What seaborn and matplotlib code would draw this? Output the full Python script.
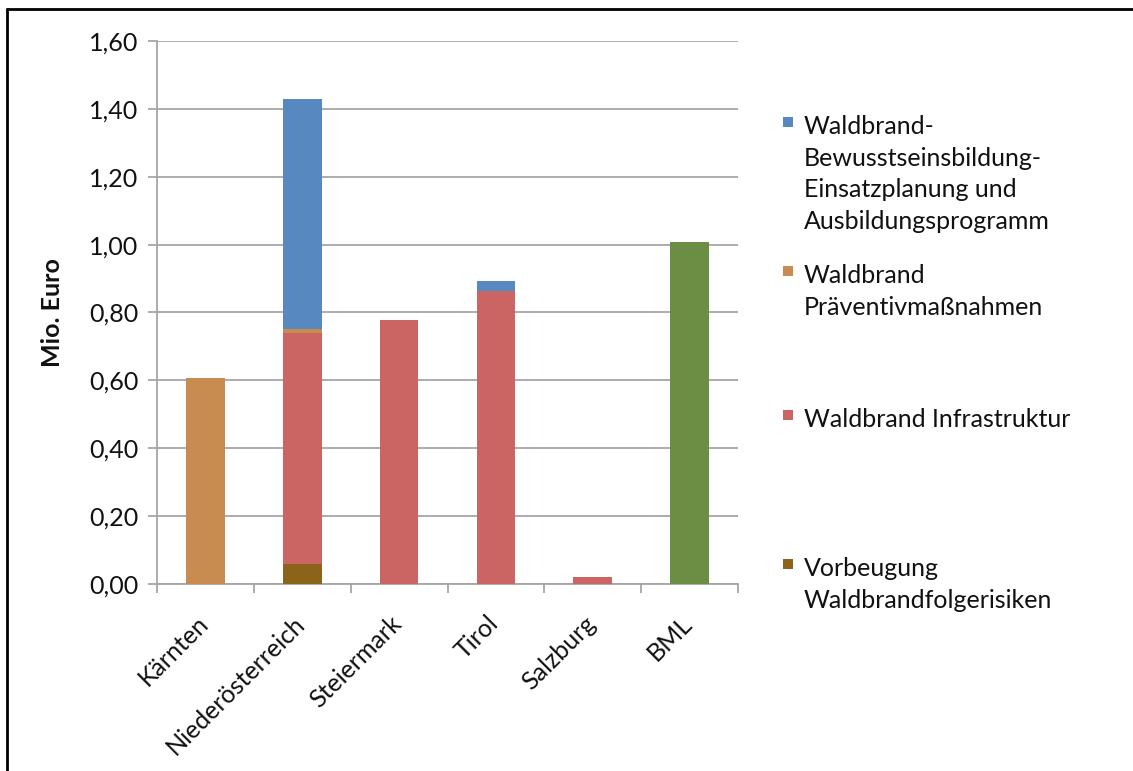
import numpy as np
import pandas as pd
import matplotlib
matplotlib.use("Agg")
import matplotlib.pyplot as plt
import matplotlib.patches as mpatches
from matplotlib.lines import Line2D
from matplotlib.transforms import ScaledTranslation
import seaborn as sns

categories = ["Kärnten", "Niederösterreich", "Steiermark", "Tirol", "Salzburg", "BML"]
vorbeugung = [0.0, 0.06, 0.0, 0.0, 0.0, 0.0]
infrastruktur = [0.0, 0.68, 0.777, 0.862, 0.02, 0.0]
praevention = [0.607, 0.012, 0.0, 0.0, 0.0, 0.0]
bewusstsein = [0.0, 0.677, 0.0, 0.031, 0.0, 0.0]
bml = [0.0, 0.0, 0.0, 0.0, 0.0, 1.008]

yticks = [0.0, 0.2, 0.4, 0.6, 0.8, 1.0, 1.2, 1.4, 1.6]
ytick_labels = ["0,00", "0,20", "0,40", "0,60", "0,80", "1,00", "1,20", "1,40", "1,60"]

series_names = [
    "Vorbeugung\nWaldbrandfolgerisiken",
    "Waldbrand Infrastruktur",
    "Waldbrand\nPräventivmaßnahmen",
    "Waldbrand-\nBewusstseinsbildung-\nEinsatzplanung und\nAusbildungsprogramm",
]
colors = {
    "brown": "#8B641A",
    "red": "#CA6563",
    "orange": "#C88C51",
    "blue": "#5888C0",
    "green": "#6C8E44",
}

sns.set_theme(style="white")
plt.rcParams["font.family"] = ["Lato", "DejaVu Sans"]

FS = 18
W, H = 1133, 771
fig = plt.figure(figsize=(W / 100, H / 100), dpi=100)
ax = fig.add_axes([157 / W, 1 - 584 / H, (738 - 157) / W, (584 - 41) / H])

df = pd.DataFrame({
    "Land": categories,
    "brown": vorbeugung,
    "red": infrastruktur,
    "orange": praevention,
    "blue": bewusstsein,
    "green": bml,
})
df["c_brown"] = df["brown"]
df["c_red"] = df["c_brown"] + df["red"]
df["c_orange"] = df["c_red"] + df["orange"]
df["c_blue"] = df["c_orange"] + df["blue"]
df["c_green"] = df["green"]

# draw cumulative totals from the top layer down so lower layers overlay
for key in ["blue", "orange", "red", "brown", "green"]:
    sns.barplot(data=df, x="Land", y="c_" + key, order=categories,
                color=colors[key], width=0.4, saturation=1,
                linewidth=0, ax=ax, zorder=3)

ax.set_xlim(-0.5, len(categories) - 0.5)
ax.set_ylim(0, 1.6)
ax.set_yticks(yticks)
ax.set_yticklabels(ytick_labels)
ax.set_ylabel("Mio. Euro", fontsize=FS, fontweight="bold", labelpad=18,
              color="#111111")
ax.set_xlabel("")

grid_c = "#A6A6A6"
ax.yaxis.grid(True, color=grid_c, linewidth=1.3, zorder=0)
ax.set_axisbelow(True)
for s in ["top", "right"]:
    ax.spines[s].set_visible(False)
for s in ["left", "bottom"]:
    ax.spines[s].set_color(grid_c)
    ax.spines[s].set_linewidth(1.3)

ax.tick_params(axis="y", which="major", left=True, length=6.5, width=1.3,
               color=grid_c, labelsize=FS, labelcolor="#111111", pad=7)
ax.set_xticks(range(len(categories)))
ax.set_xticklabels(categories, rotation=45, ha="right", rotation_mode="anchor",
                   fontsize=FS, color="#111111")
ax.tick_params(axis="x", which="major", length=0, pad=4)
ax.set_xticks(np.arange(-0.5, len(categories), 1.0), minor=True)
ax.tick_params(axis="x", which="minor", bottom=True, length=6.5, width=1.3,
               color=grid_c)

offset = ScaledTranslation(-0.09, -0.22, fig.dpi_scale_trans)
for lab in ax.get_xticklabels():
    lab.set_transform(lab.get_transform() + offset)

# legend (manually placed entries, as in the reference)
legend_entries = [
    (series_names[3], colors["blue"], 122),
    (series_names[2], colors["orange"], 271),
    (series_names[1], colors["red"], 415),
    (series_names[0], colors["brown"], 564),
]
for label, col, ypix in legend_entries:
    fig.add_artist(mpatches.Rectangle((783 / W, 1 - (ypix + 5) / H), 10 / W, 10 / H,
                                      transform=fig.transFigure, facecolor=col,
                                      edgecolor="none"))
    fig.text(804 / W, 1 - (ypix - 7) / H, label, fontsize=FS, color="#111111",
             va="top", ha="left", linespacing=1.45)

# outer frame
fig.add_artist(Line2D([7 / W, 7 / W], [0, 1 - 9 / H], transform=fig.transFigure,
                      color="black", linewidth=2))
fig.add_artist(Line2D([7 / W, 1], [1 - 9 / H, 1 - 9 / H], transform=fig.transFigure,
                      color="black", linewidth=2))

fig.savefig("out.png", dpi=100, facecolor="white")
